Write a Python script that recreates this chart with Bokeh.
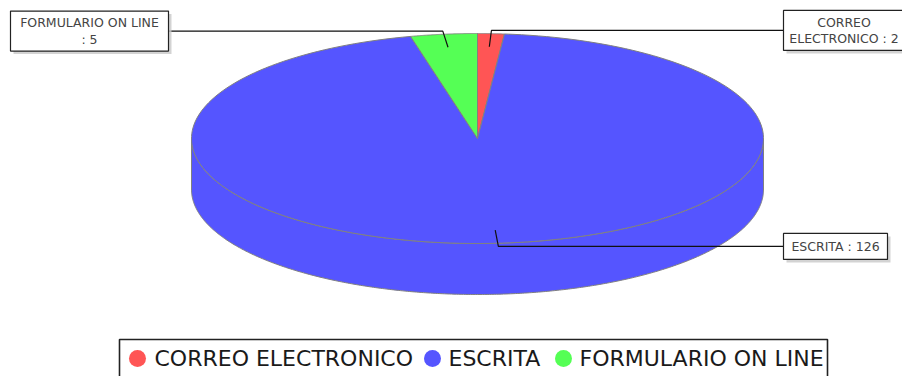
import textwrap
import numpy as np
from bokeh.plotting import figure
from bokeh.models import Range1d
from bokeh.core.properties import value
from bokeh.embed import file_html
from bokeh.resources import INLINE

# Data
categories = ["CORREO ELECTRONICO", "ESCRITA", "FORMULARIO ON LINE"]
counts = [2, 126, 5]
colors = ["#FF5555", "#5555FF", "#55FF55"]

# Layout (pixel space, y grows downward)
W, H = 902, 376
cx, cy, rx, ry, depth = 477, 138, 286, 105, 51
start_angle = 90.0
outline = "#808080"
label_wrap = [16, 20, 18]
label_box_w = [121, 104, 158]
left_box_edge, right_box_edge = 168, 783
legend_marker_x = [137, 432, 563]
legend_text_x = [154, 448, 579]
legend_y = 358
FONT = "DejaVu Sans"

p = figure(width=W, height=H, x_range=Range1d(0, W), y_range=Range1d(H, 0),
           output_backend="svg", toolbar_location=None, min_border=0,
           outline_line_color=None, background_fill_color="white")
p.axis.visible = False
p.grid.visible = False

total = float(sum(counts))
cum = np.concatenate([[0], np.cumsum(counts)]) / total * 360.0
a_start = start_angle - cum[:-1]   # clockwise from the top
a_end = start_angle - cum[1:]


def ell(t_deg, k=1.0, dy=0.0):
    t = np.radians(t_deg)
    return cx + k * rx * np.cos(t), cy - k * ry * np.sin(t) + dy


# Side walls (front half only)
side_xs, side_ys, side_cols = [], [], []
for a0, a1, c in zip(a_start, a_end, colors):
    t = np.linspace(a1, a0, 720)
    t = t[np.sin(np.radians(t)) < 0]
    if len(t) < 2:
        continue
    tx, ty = ell(t)
    bx, by = ell(t[::-1], dy=depth)
    side_xs.append(np.concatenate([tx, bx]).tolist())
    side_ys.append(np.concatenate([ty, by]).tolist())
    side_cols.append(c)
p.patches(side_xs, side_ys, fill_color=side_cols, line_color=outline, line_width=1)

# Top face
top_xs, top_ys = [], []
for a0, a1 in zip(a_start, a_end):
    t = np.linspace(a0, a1, 200)
    tx, ty = ell(t)
    top_xs.append([cx] + tx.tolist())
    top_ys.append([cy] + ty.tolist())
p.patches(top_xs, top_ys, fill_color=colors, line_color=outline, line_width=1)

# Labels with leader lines
lx, ly, bx_c, by_c, bw, bh, texts = [], [], [], [], [], [], []
for i, (a0, a1) in enumerate(zip(a_start, a_end)):
    mid = (a0 + a1) / 2.0
    ax, ay = ell(mid, 0.875)
    ex, ey = ell(mid, 1.03)
    right = np.cos(np.radians(mid)) >= 0
    edge = right_box_edge if right else left_box_edge
    lx.append([ax, ex, edge])
    ly.append([ay, ey, ey])
    lines = textwrap.wrap(f"{categories[i]} : {counts[i]}", label_wrap[i])
    w = label_box_w[i]
    h = 12 + 14 * len(lines)
    bx_c.append(edge + w / 2 if right else edge - w / 2)
    by_c.append(ey)
    bw.append(w)
    bh.append(h)
    texts.append("\n".join(lines))

p.multi_line(lx, ly, line_color="#111111", line_width=1.2)
p.rect(x=[x + 3 for x in bx_c], y=[y + 3 for y in by_c], width=bw, height=bh,
       fill_color="#C8C8C8", line_color=None, fill_alpha=0.8)
p.rect(x=bx_c, y=by_c, width=bw, height=bh, fill_color="white",
       line_color="#222222", line_width=1.2)
p.text(x=bx_c, y=by_c, text=texts, text_align="center", text_baseline="middle",
       text_font=value(FONT), text_font_size="12.5px", text_color="#444444",
       text_line_height=1.1)

# Legend
p.quad(left=119, right=827, top=339, bottom=392, fill_color="white",
       line_color="#222222", line_width=1.6)
p.scatter(x=legend_marker_x, y=[legend_y] * 3, size=17, marker="circle",
          fill_color=colors, line_color=None)
p.text(x=legend_text_x, y=[legend_y] * 3, text=categories, text_align="left",
       text_baseline="middle", text_font=value(FONT), text_font_size="22px",
       text_color="#1a1a1a")

open("out.html", "w").write(file_html(p, INLINE))
